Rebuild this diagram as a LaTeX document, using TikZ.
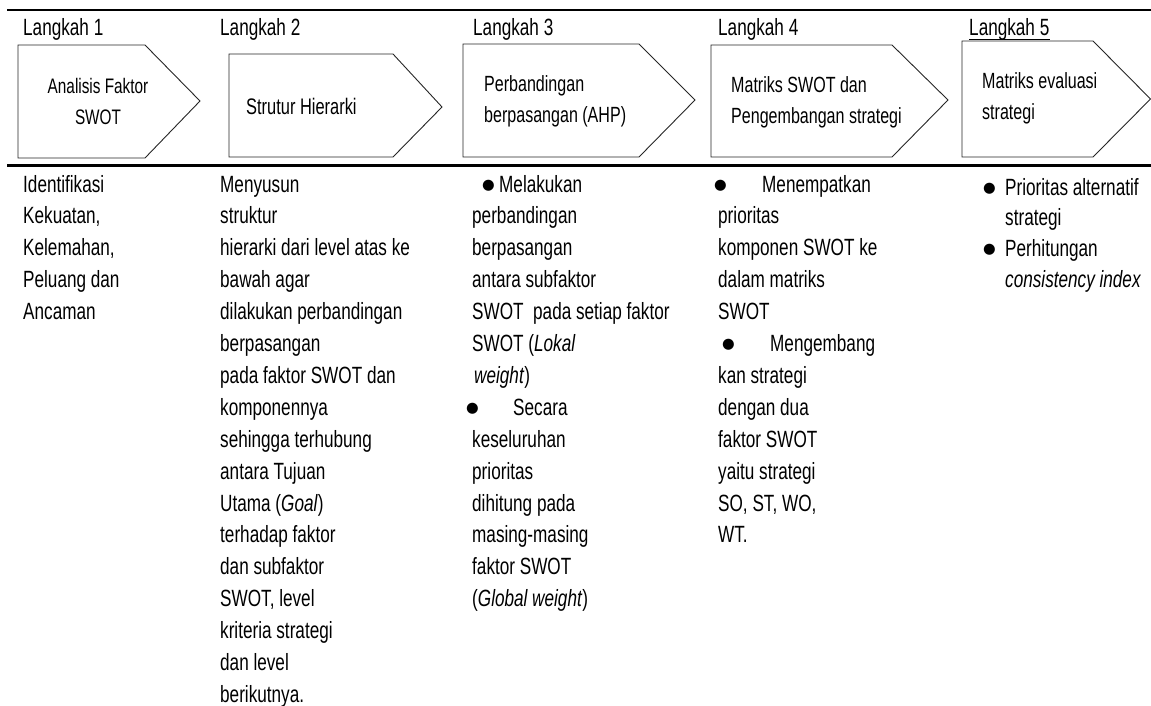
\documentclass[tikz,border=0pt]{standalone}
\usepackage{fontspec}
\setmainfont{Liberation Sans}[FakeStretch=0.73]
\newfontfamily\bulfont{DejaVu Sans}
\usetikzlibrary{calc}
\newcommand{\bul}{\raisebox{2.5pt}{\bulfont\fontsize{14.5}{20}\selectfont ●}}
\newcommand{\lcol}[1]{\begin{tabular}[t]{@{}l@{}}#1\end{tabular}}
\newcommand{\ccol}[1]{\begin{tabular}[t]{@{}c@{}}#1\end{tabular}}
\begin{document}
\begin{tikzpicture}[x=1pt,y=-1pt,
  txt/.style={inner sep=0pt, anchor=base west, font=\fontsize{23.5}{31.9}\selectfont},
  boxtxt/.style={inner sep=0pt, anchor=base west, font=\fontsize{22}{31}\selectfont},
  stepshape/.style={draw=black!85, line width=0.9pt, fill=white},
  rulestyle/.style={line width=2.2pt, black}]
\useasboundingbox (0,0) rectangle (1151,706);
% rules
\draw[rulestyle] (7,10) -- (1151,10);
\draw[rulestyle] (7,165.5) -- (1151,165.5);
% step shapes
\draw[stepshape] (18,45) -- (145,45) -- (200,101) -- (145,158) -- (18,158) -- cycle;
\draw[stepshape] (229,54) -- (393,54) -- (442,107) -- (393,157) -- (229,157) -- cycle;
\draw[stepshape] (463,44) -- (639,44) -- (695,100) -- (639,157) -- (463,157) -- cycle;
\draw[stepshape] (711,45) -- (892,45) -- (948,100) -- (892,157) -- (711,157) -- cycle;
\draw[stepshape] (962,41) -- (1093,41) -- (1150.5,99) -- (1093,157) -- (962,157) -- cycle;
% step labels
\node[txt] (L1) at (23,36) {Langkah 1};
\node[txt] (L2) at (220,36) {Langkah 2};
\node[txt] (L3) at (473,36) {Langkah 3};
\node[txt] (L4) at (718,36) {Langkah 4};
\node[txt] (L5) at (969,36) {Langkah 5};
\draw[line width=0.9pt] ($(L5.base west)+(0,3.3)$) -- ($(L5.base east)+(0,3.3)$);
% box texts
\node[boxtxt, anchor=base, font=\fontsize{21}{31}\selectfont] (B1) at (98,94) {\ccol{Analisis Faktor\\SWOT}};
\node[boxtxt, font=\fontsize{22.5}{31}\selectfont] (B2) at (246,115) {Strutur Hierarki};
\node[boxtxt] (B3) at (484,92) {\lcol{Perbandingan\\berpasangan (AHP)}};
\node[boxtxt] (B4) at (731,93) {\lcol{Matriks SWOT dan\\Pengembangan strategi}};
\node[boxtxt] (B5) at (982,89) {\lcol{Matriks evaluasi\\strategi}};
% descriptions
\node[txt] (D1) at (23,192) {\lcol{Identifikasi\\Kekuatan,\\Kelemahan,\\Peluang dan\\Ancaman}};
\node[txt] (D2) at (220,192) {\lcol{Menyusun\\struktur\\hierarki dari level atas ke\\bawah agar\\dilakukan perbandingan\\berpasangan\\pada faktor SWOT dan\\komponennya\\sehingga terhubung\\antara Tujuan\\Utama (\textit{Goal})\\terhadap faktor\\dan subfaktor\\SWOT, level\\kriteria strategi\\dan level\\berikutnya.}};
\node[txt] (D3) at (472,192) {\lcol{\hspace*{10pt}\makebox[17pt][l]{\bul}Melakukan\\perbandingan\\berpasangan\\antara subfaktor\\SWOT\ \ pada setiap faktor\\SWOT (\textit{Lokal}\\\hspace*{2pt}\textit{weight})\\\hspace*{-6pt}\makebox[47pt][l]{\bul}Secara\\keseluruhan\\prioritas\\dihitung pada\\masing-masing\\faktor SWOT\\(\textit{Global weight})}};
\node[txt] (D4) at (718,192) {\lcol{\hspace*{-4pt}\makebox[48pt][l]{\bul}Menempatkan\\prioritas\\komponen SWOT ke\\dalam matriks\\SWOT\\\hspace*{4pt}\makebox[48pt][l]{\bul}Mengembang\\kan strategi\\dengan dua\\faktor SWOT\\yaitu strategi\\SO, ST, WO,\\WT.}};
\node[txt, font=\fontsize{23.5}{30.7}\selectfont] (D5) at (983,195) {\lcol{\makebox[22pt][l]{\bul}Prioritas alternatif\\\hspace*{22pt}strategi\\\makebox[22pt][l]{\bul}Perhitungan\\\hspace*{22pt}\textit{consistency index}}};
\end{tikzpicture}
\end{document}
